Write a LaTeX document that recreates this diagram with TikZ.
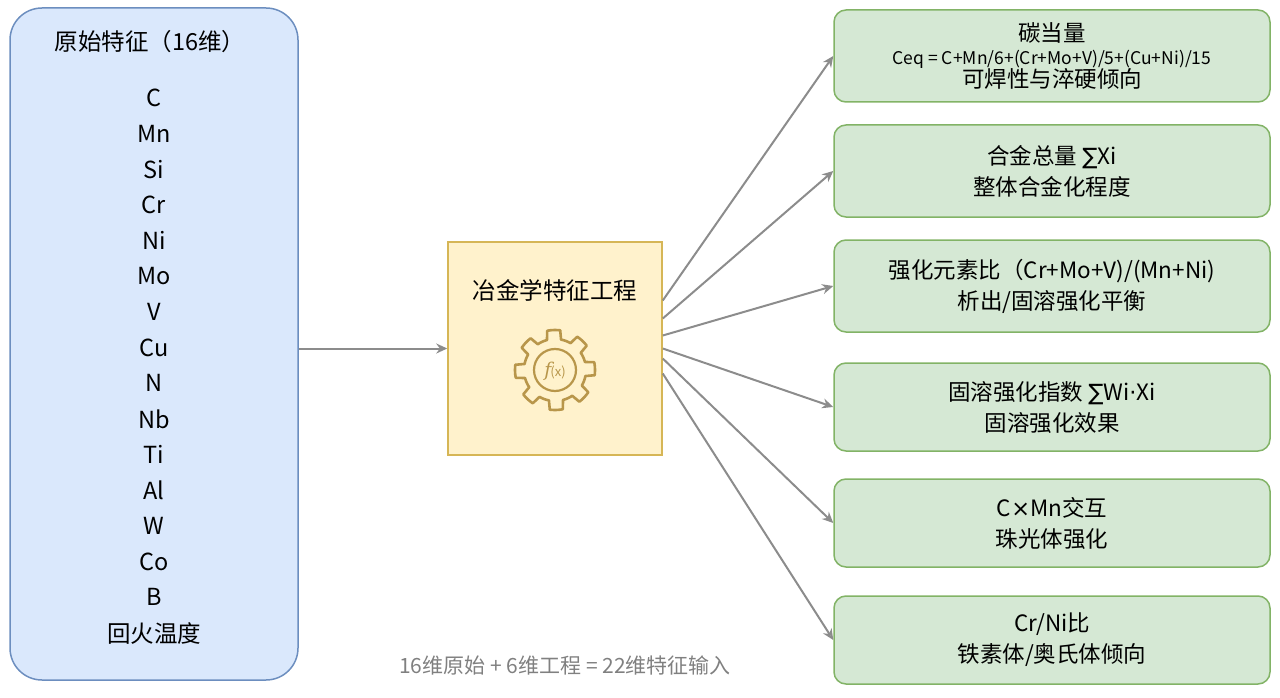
\documentclass[tikz,border=0pt]{standalone}
\usepackage{fontspec}
\setmainfont{Noto Sans CJK SC}
\newfontfamily\symf{DejaVu Sans}
\newfontfamily\gearf{DejaVu Serif}
\usetikzlibrary{arrows.meta}
\definecolor{bluef}{HTML}{DAE8FC}\definecolor{blued}{HTML}{6C8EBF}
\definecolor{yelf}{HTML}{FFF2CC}\definecolor{yeld}{HTML}{D6B656}
\definecolor{grnf}{HTML}{D5E8D4}\definecolor{grnd}{HTML}{82B366}
\definecolor{gearc}{HTML}{B8964A}
\begin{document}
\begin{tikzpicture}[x=1pt,y=-1pt,
  arr/.style={draw=gray!90,line width=2pt,-{Stealth[length=11pt,width=10pt,open]}},
  gbox/.style={draw=grnd,fill=grnf,line width=1.5pt,rounded corners=12pt,minimum width=436pt,align=center,font=\fontsize{22.5}{31}\selectfont},
  txt/.style={font=\fontsize{23.5}{27}\selectfont}]
\useasboundingbox (0,0) rectangle (1280,698);
\node[draw=blued,fill=bluef,line width=1.5pt,rounded corners=32pt,minimum width=288pt,minimum height=672pt] (L) at (154,344) {};
\node[txt] (lt) at (150,42) {原始特征（16维）};
\foreach \t [count=\i from 0] in {C,Mn,Si,Cr,Ni,Mo,V,Cu,N,Nb,Ti,Al,W,Co,B,回火温度}
  \node[txt] (l\i) at (154,{98+35.67*\i}) {\t};
\node[draw=yeld,fill=yelf,line width=1.5pt,minimum width=214pt,minimum height=213pt] (M) at (555,348.5) {};
\node[txt] (mt) at (555,290) {冶金学特征工程};
\begin{scope}[shift={(555,370)}]
\draw[gearc,line width=2.6pt,line join=round] plot[samples=97,domain=0:360] (\x:{ (mod(\x+11.25,45)<22.5) ? 40 : 31 }) -- cycle;
\draw[gearc,line width=2.2pt] (0,0) circle (21);
\node[gearc,font=\fontsize{19}{19}\selectfont] (fx) at (0,1) {{\gearf\itshape f}\kern-1pt{\fontsize{13}{13}\selectfont(x)}};
\end{scope}
\node[gbox,minimum height=92pt] (r1) at (1052,56) {碳当量\\[-8pt]{\fontsize{17.5}{21}\selectfont Ceq = C+Mn/6+(Cr+Mo+V)/5+(Cu+Ni)/15}\\[-8pt]可焊性与淬硬倾向};
\node[gbox,minimum height=92pt] (r2) at (1052,171) {合金总量 {\symf ∑}Xi\\整体合金化程度};
\node[gbox,minimum height=92pt] (r3) at (1052,286) {强化元素比（Cr+Mo+V)/(Mn+Ni)\\析出/固溶强化平衡};
\node[gbox,minimum height=88pt] (r4) at (1052,407) {固溶强化指数 {\symf ∑}Wi{\symf ·}Xi\\固溶强化效果};
\node[gbox,minimum height=88pt] (r5) at (1052,523) {C{\symf ×}Mn交互\\珠光体强化};
\node[gbox,minimum height=88pt] (r6) at (1052,640) {Cr/Ni比\\铁素体/奥氏体倾向};
\draw[arr] (L.east |- M.west) -- (M.west);
\draw[arr] ([yshift=48pt]M.east) -- (r1.west);
\draw[arr] ([yshift=30pt]M.east) -- (r2.west);
\draw[arr] ([yshift=13pt]M.east) -- (r3.west);
\draw[arr] ([yshift=0pt]M.east) -- (r4.west);
\draw[arr] ([yshift=-10pt]M.east) -- (r5.west);
\draw[arr] ([yshift=-25pt]M.east) -- (r6.west);
\node[text=gray,font=\fontsize{21}{24}\selectfont] (foot) at (565,665) {16维原始 + 6维工程 = 22维特征输入};
\end{tikzpicture}
\end{document}
